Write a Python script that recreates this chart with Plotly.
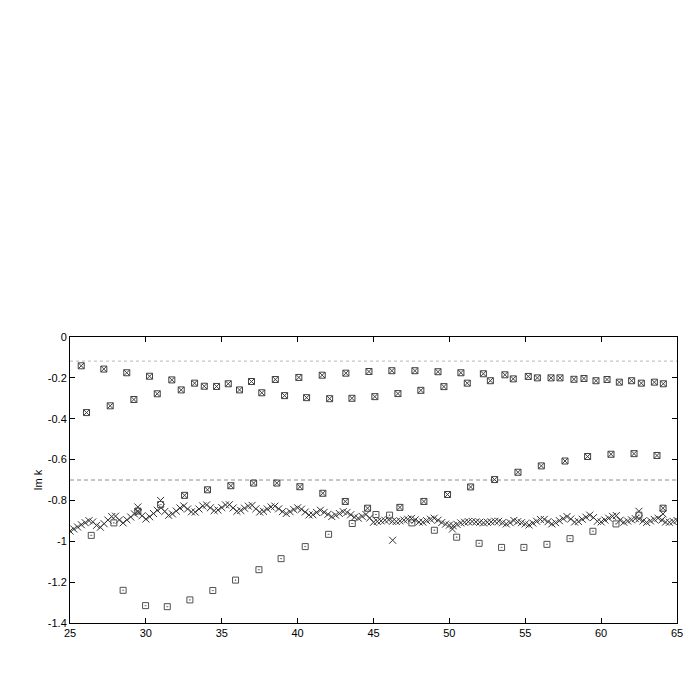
import plotly.graph_objects as go

# ---------------- data ----------------
# dense cross (x) series
cross_x = [25.00, 25.25, 25.50, 25.75, 26.00, 26.25, 26.50, 26.75, 27.00, 27.25, 27.50, 27.75,
           28.00, 28.25, 28.50, 28.75, 29.00, 29.25, 29.50, 29.75, 30.00, 30.25, 30.50, 30.75,
           31.00, 31.25, 31.50, 31.75, 32.00, 32.25, 32.50, 32.75, 33.00, 33.25, 33.50, 33.75,
           34.00, 34.25, 34.50, 34.75, 35.00, 35.25, 35.50, 35.75, 36.00, 36.25, 36.50, 36.75,
           37.00, 37.25, 37.50, 37.75, 38.00, 38.25, 38.50, 38.75, 39.00, 39.25, 39.50, 39.75,
           40.00, 40.25, 40.50, 40.75, 41.00, 41.25, 41.50, 41.75, 42.00, 42.25, 42.50, 42.75,
           43.00, 43.25, 43.50, 43.75, 44.00, 44.25, 44.50, 44.75, 45.00, 45.25, 45.50, 45.75,
           46.00, 46.25, 46.50, 46.75, 47.00, 47.25, 47.50, 47.75, 48.00, 48.25, 48.50, 48.75,
           49.00, 49.25, 49.50, 49.75, 50.00, 50.25, 50.50, 50.75, 51.00, 51.25, 51.50, 51.75,
           52.00, 52.25, 52.50, 52.75, 53.00, 53.25, 53.50, 53.75, 54.00, 54.25, 54.50, 54.75,
           55.00, 55.25, 55.50, 55.75, 56.00, 56.25, 56.50, 56.75, 57.00, 57.25, 57.50, 57.75,
           58.00, 58.25, 58.50, 58.75, 59.00, 59.25, 59.50, 59.75, 60.00, 60.25, 60.50, 60.75,
           61.00, 61.25, 61.50, 61.75, 62.00, 62.25, 62.50, 62.75, 63.00, 63.25, 63.50, 63.75,
           64.00, 64.25, 64.50, 64.75, 65.00,
           29.47, 30.97, 46.26, 50.20, 62.49, 64.08]
cross_y = [-0.950, -0.940, -0.930, -0.919, -0.909, -0.899, -0.905, -0.922, -0.931, -0.914, -0.896, -0.879,
           -0.877, -0.896, -0.910, -0.895, -0.881, -0.866, -0.859, -0.875, -0.891, -0.880, -0.864, -0.848,
           -0.836, -0.854, -0.873, -0.866, -0.852, -0.837, -0.827, -0.842, -0.856, -0.857, -0.842, -0.827,
           -0.822, -0.836, -0.850, -0.847, -0.835, -0.822, -0.821, -0.837, -0.853, -0.849, -0.838, -0.828,
           -0.824, -0.841, -0.857, -0.853, -0.842, -0.832, -0.828, -0.841, -0.855, -0.864, -0.855, -0.845,
           -0.836, -0.843, -0.857, -0.871, -0.870, -0.859, -0.848, -0.858, -0.868, -0.879, -0.872, -0.864,
           -0.855, -0.859, -0.870, -0.882, -0.887, -0.878, -0.869, -0.886, -0.907, -0.903, -0.900, -0.897,
           -0.895, -0.902, -0.903, -0.900, -0.896, -0.892, -0.888, -0.895, -0.906, -0.906, -0.899, -0.892,
           -0.887, -0.897, -0.908, -0.916, -0.921, -0.924, -0.917, -0.910, -0.907, -0.904, -0.903, -0.905,
           -0.907, -0.910, -0.907, -0.905, -0.902, -0.902, -0.909, -0.915, -0.909, -0.898, -0.904, -0.909,
           -0.915, -0.920, -0.911, -0.902, -0.893, -0.893, -0.904, -0.915, -0.909, -0.899, -0.889, -0.879,
           -0.891, -0.906, -0.903, -0.892, -0.882, -0.872, -0.884, -0.902, -0.905, -0.896, -0.887, -0.878,
           -0.874, -0.897, -0.907, -0.901, -0.895, -0.889, -0.890, -0.901, -0.908, -0.900, -0.893, -0.887,
           -0.896, -0.906, -0.907, -0.903, -0.898,
           -0.832, -0.800, -0.995, -0.940, -0.853, -0.866]

# coincident points (square with cross)
both_x = [25.74, 26.09, 27.23, 27.65, 28.74, 29.21, 30.24, 30.75, 31.71, 32.33, 33.21, 33.85,
          34.66, 35.43, 36.17, 36.96, 37.64, 38.53, 39.14, 40.08, 40.59, 41.62, 42.11, 43.18,
          43.58, 44.70, 45.09, 46.21, 46.61, 47.73, 48.12, 49.25, 49.64, 50.76, 51.18, 52.24,
          52.70, 53.66, 54.21, 55.20, 55.80, 56.70, 57.29, 58.21, 58.87, 59.66, 60.39, 61.20,
          62.01, 62.65, 63.51, 64.10,
          29.47, 32.55, 34.06, 35.60, 37.10, 38.63, 40.15, 41.66, 43.14, 44.61, 46.74, 48.32,
          49.88, 51.40, 52.98, 54.52, 56.06, 57.62, 59.11, 60.65, 62.17, 63.68, 64.08]
both_y = [-0.141, -0.370, -0.157, -0.337, -0.175, -0.306, -0.192, -0.278, -0.210, -0.259, -0.226, -0.241,
          -0.242, -0.229, -0.259, -0.218, -0.273, -0.208, -0.287, -0.198, -0.297, -0.187, -0.302, -0.177,
          -0.300, -0.169, -0.292, -0.165, -0.277, -0.165, -0.261, -0.170, -0.243, -0.175, -0.226, -0.180,
          -0.214, -0.185, -0.205, -0.193, -0.200, -0.200, -0.200, -0.207, -0.203, -0.214, -0.208, -0.221,
          -0.214, -0.226, -0.221, -0.229,
          -0.852, -0.775, -0.748, -0.728, -0.715, -0.715, -0.733, -0.765, -0.805, -0.838, -0.834, -0.805,
          -0.771, -0.734, -0.698, -0.662, -0.631, -0.607, -0.585, -0.574, -0.571, -0.580, -0.838]

# square-only series
square_x = [26.40, 27.89, 28.50, 29.98, 30.97, 31.41, 32.90, 34.41, 35.91, 37.45, 38.91, 40.50,
            42.04, 43.60, 45.16, 46.06, 47.53, 49.01, 50.48, 51.96, 53.44, 54.91, 56.43, 57.95,
            59.46, 60.98, 62.49]
square_y = [-0.971, -0.910, -1.240, -1.315, -0.820, -1.320, -1.287, -1.241, -1.190, -1.139, -1.085, -1.026,
            -0.966, -0.913, -0.869, -0.872, -0.910, -0.946, -0.980, -1.010, -1.030, -1.030, -1.015, -0.987,
            -0.951, -0.915, -0.872]

# reference levels
dotted_level = -0.118
dashed_level = -0.70
x_span = [25, 65]

x_ticks = [25, 30, 35, 40, 45, 50, 55, 60, 65]
y_ticks = [0, -0.2, -0.4, -0.6, -0.8, -1.0, -1.2, -1.4]
y_tick_text = ["0", "-0.2", "-0.4", "-0.6", "-0.8", "-1", "-1.2", "-1.4"]

# ---------------- figure ----------------
fig = go.Figure()

fig.add_trace(go.Scatter(x=x_span, y=[dotted_level, dotted_level], mode="lines",
                         line=dict(color="#b8b8b8", width=1, dash="dot"), hoverinfo="skip"))
fig.add_trace(go.Scatter(x=x_span, y=[dashed_level, dashed_level], mode="lines",
                         line=dict(color="#8c8c8c", width=1, dash="4px,3px"), hoverinfo="skip"))

fig.add_trace(go.Scatter(x=cross_x, y=cross_y, mode="markers",
                         marker=dict(symbol="x-thin-open", size=7, color="#333333",
                                     line=dict(color="#333333", width=1))))
fig.add_trace(go.Scatter(x=square_x, y=square_y, mode="markers",
                         marker=dict(symbol="square-open-dot", size=6, color="#505050",
                                     line=dict(color="#505050", width=1))))
fig.add_trace(go.Scatter(x=both_x, y=both_y, mode="markers",
                         marker=dict(symbol="square-x-open", size=6, color="#404040",
                                     line=dict(color="#404040", width=1))))

axis_common = dict(showline=True, linecolor="black", linewidth=1, mirror="ticks",
                   ticks="inside", ticklen=5, tickcolor="black", showgrid=False,
                   zeroline=False, tickfont=dict(family="Liberation Sans, Arial, sans-serif",
                                                 size=11, color="black"))

fig.update_layout(
    width=700, height=700,
    margin=dict(l=62, r=31, t=329, b=85),
    paper_bgcolor="white", plot_bgcolor="white",
    showlegend=False,
    xaxis=dict(range=[25, 65], tickvals=x_ticks, **axis_common),
    yaxis=dict(range=[-1.4, 0], tickvals=y_ticks, ticktext=y_tick_text, **axis_common),
    annotations=[dict(text="Im k", xref="paper", yref="paper", x=-0.052, y=0.5,
                      xanchor="center", yanchor="middle", textangle=-90, showarrow=False,
                      font=dict(family="Liberation Sans, Arial, sans-serif", size=11, color="black"))],
)

fig.write_html("out.html")
